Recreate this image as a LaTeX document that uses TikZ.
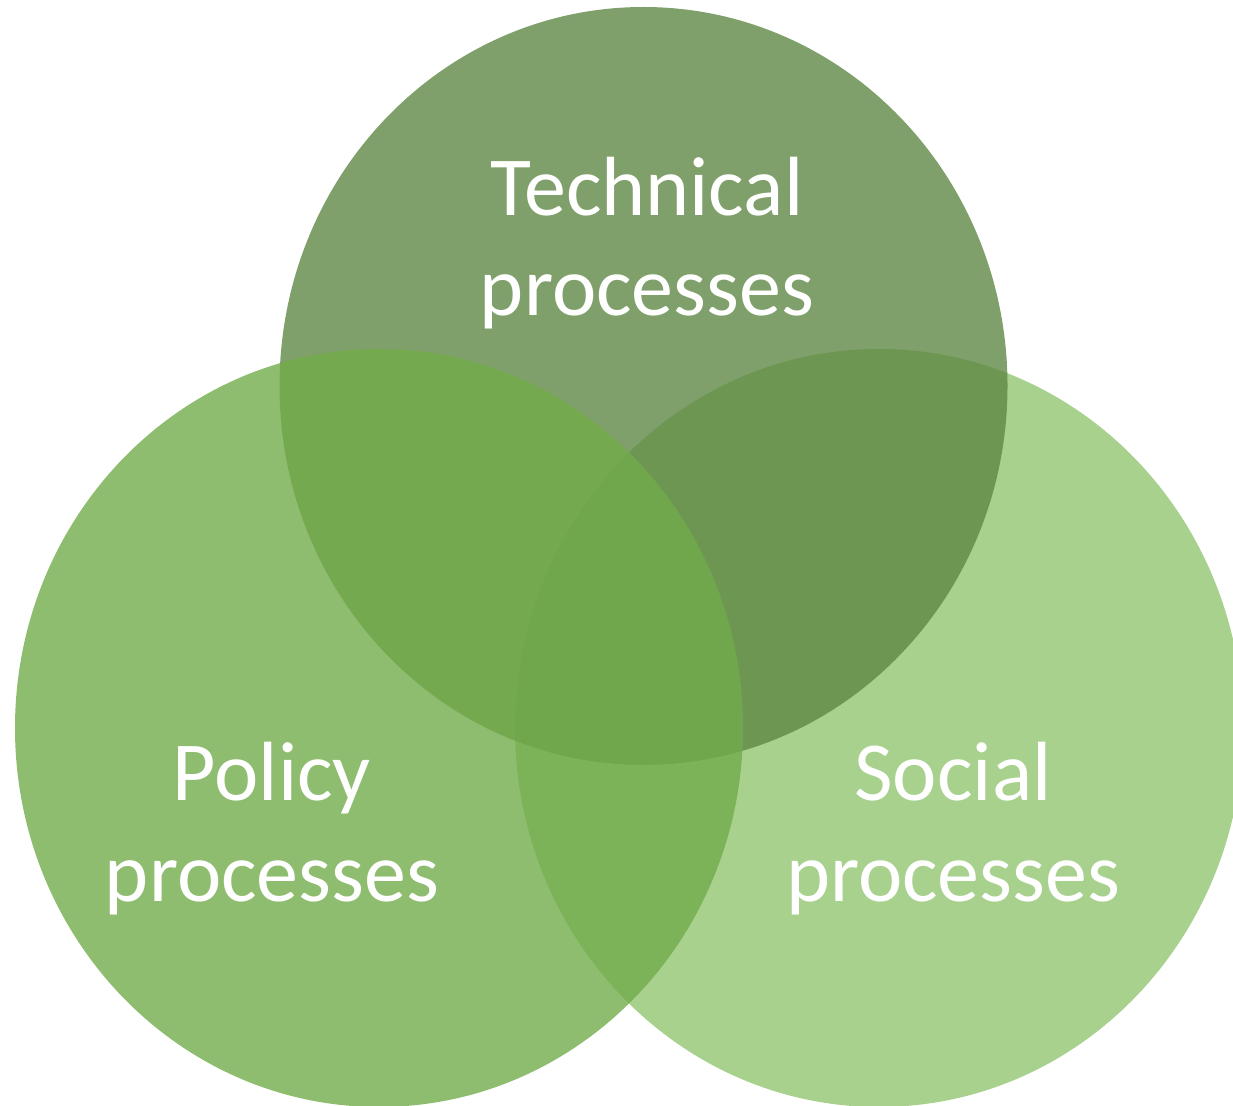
\documentclass[tikz,border=0pt]{standalone}
\usepackage{fontspec}
\setmainfont{Carlito}
\usepackage{tikz}

\definecolor{techgreen}{RGB}{95,136,69}
\definecolor{policygreen}{RGB}{115,172,75}
\definecolor{socialgreen}{RGB}{147,197,114}

\tikzset{
  venn/.style={fill opacity=.8, draw=none},
  venntext/.style={text=white, align=center, anchor=base, inner sep=0pt,
    font=\fontsize{23.9pt}{28.6pt}\selectfont}
}

\begin{document}
\begin{tikzpicture}
\useasboundingbox (0,0) rectangle (12.33,-11.06);
\clip (0,0) rectangle (12.33,-11.06);

% the three sets
\fill[venn, socialgreen] (8.79,-7.28) ellipse [x radius=3.64, y radius=3.79];
\fill[venn, techgreen] (6.435,-3.86) ellipse [x radius=3.64, y radius=3.79];
\fill[venn, policygreen] (3.79,-7.28) ellipse [x radius=3.64, y radius=3.79];

% base of a node is the base of its last line
\node[venntext] (tech) at (6.47,-3.16) {Technical\\processes};
\node[venntext] (policy) at (2.72,-9.01) {Policy\\processes};
\node[venntext] (social) at (9.53,-9.01) {Social\\processes};
\end{tikzpicture}
\end{document}
